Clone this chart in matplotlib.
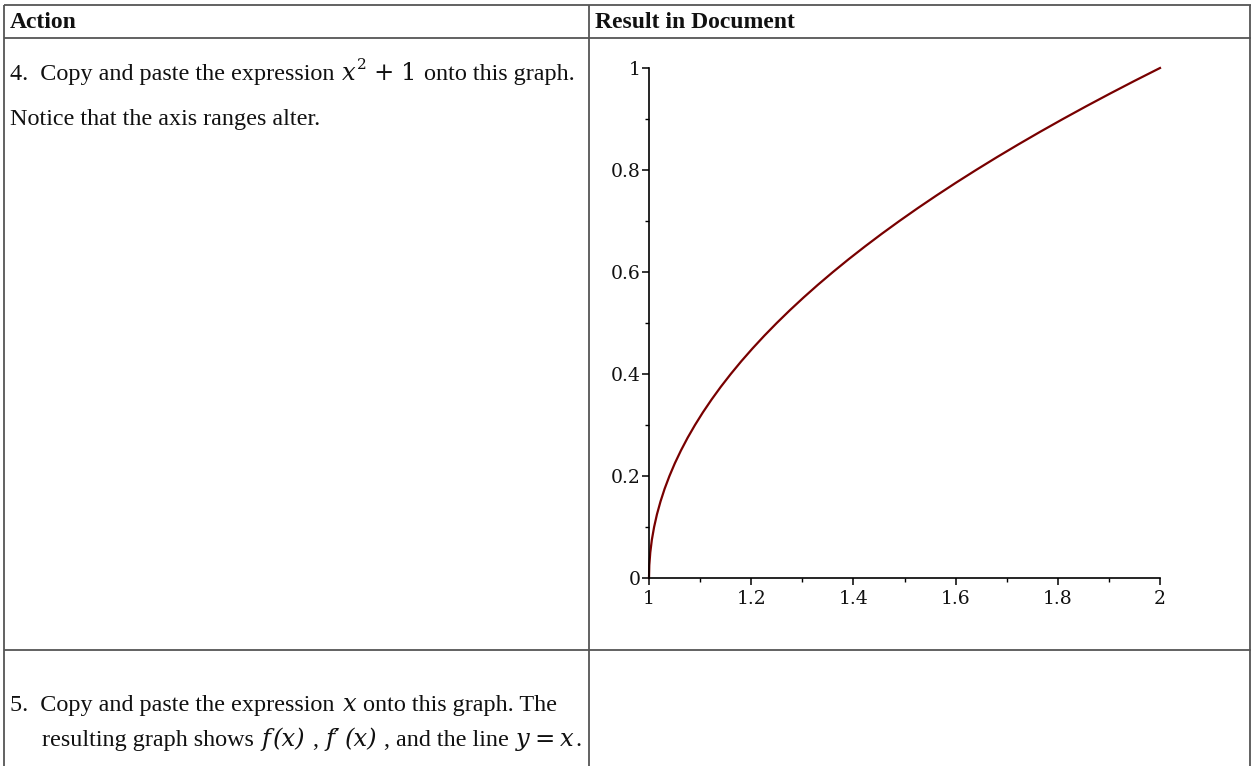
import matplotlib
matplotlib.use("Agg")
import matplotlib.pyplot as plt
from matplotlib.ticker import MultipleLocator

# ---- data ----
curve_x = [1.0, 1.0006, 1.0025, 1.0056, 1.01, 1.0156, 1.0225, 1.0306, 1.04, 1.0506,
           1.0625, 1.0756, 1.09, 1.1056, 1.1225, 1.1406, 1.16, 1.1806, 1.2025, 1.2256,
           1.25, 1.2756, 1.3025, 1.3306, 1.36, 1.3906, 1.4225, 1.4556, 1.49, 1.5256,
           1.5625, 1.6006, 1.64, 1.6806, 1.7225, 1.7656, 1.81, 1.8556, 1.9025, 1.9506, 2.0]
curve_y = [0.0, 0.025, 0.05, 0.075, 0.1, 0.125, 0.15, 0.175, 0.2, 0.225,
           0.25, 0.275, 0.3, 0.325, 0.35, 0.375, 0.4, 0.425, 0.45, 0.475,
           0.5, 0.525, 0.55, 0.575, 0.6, 0.625, 0.65, 0.675, 0.7, 0.725,
           0.75, 0.775, 0.8, 0.825, 0.85, 0.875, 0.9, 0.925, 0.95, 0.975, 1.0]
x_ticks = [1, 1.2, 1.4, 1.6, 1.8, 2]
x_tick_labels = ["1", "1.2", "1.4", "1.6", "1.8", "2"]
y_ticks = [0, 0.2, 0.4, 0.6, 0.8, 1]
y_tick_labels = ["0", "0.2", "0.4", "0.6", "0.8", "1"]

W, H = 1251, 766
fig = plt.figure(figsize=(W / 100, H / 100), dpi=100)
renderer = fig.canvas.get_renderer()

# background "document" axes in pixel coordinates
bg = fig.add_axes([0, 0, 1, 1])
bg.set_xlim(0, W)
bg.set_ylim(H, 0)
bg.axis("off")

lc = "#555555"
lw = 1.3
for (x0, y0, x1, y1) in [(4, 5, W, 5), (4, 38, W, 38), (4, 650, W, 650),
                         (4, 5, 4, H), (589, 5, 589, H), (1250, 5, 1250, H)]:
    bg.plot([x0, x1], [y0, y1], color=lc, lw=lw, solid_capstyle="butt")

serif = "Liberation Serif"
mathf = "DejaVu Serif"
fs = 17.4
mfs = 17.5
tc = "#111111"

TEXT = dict(fontfamily=serif, fontsize=fs)
MATH = dict(fontfamily=mathf, fontsize=mfs)
MATHI = dict(fontfamily=mathf, fontsize=mfs, fontstyle="italic")
SUP = dict(fontfamily=mathf, fontsize=11)


def run(x, y, pieces):
    """Place text pieces one after another on a baseline."""
    for s, style, gap, dy in pieces:
        x += gap
        t = bg.text(x, y + dy, s, va="baseline", ha="left", color=tc, **style)
        bb = t.get_window_extent(renderer=renderer)
        x = bb.x1
    return x


bg.text(10, 28, "Action", fontfamily=serif, fontweight="bold", fontsize=17, va="baseline", color=tc)
bg.text(595, 28, "Result in Document", fontfamily=serif, fontweight="bold", fontsize=17, va="baseline", color=tc)

# row 4
run(10, 80, [("4.  Copy and paste the expression", TEXT, 0, 0),
             ("x", MATHI, 7, 0),
             ("2", SUP, 2, -11),
             ("+", MATH, 7, 0),
             ("1", MATH, 7, 0),
             ("onto this graph.", TEXT, 7, 0)])
run(10, 125, [("Notice that the axis ranges alter.", TEXT, 0, 0)])

# row 5
run(10, 711, [("5.  Copy and paste the expression", TEXT, 0, 0),
              ("x", MATHI, 8, 0),
              ("onto this graph. The", TEXT, 7, 0)])
run(42, 746, [("resulting graph shows", TEXT, 0, 0),
              ("f", MATHI, 8, 0),
              ("(x)", MATHI, 2, 0),
              (",", TEXT, 7, 0),
              ("f\u2032", MATHI, 7, 0),
              ("(x)", MATHI, 5, 0),
              (", and the line", TEXT, 6, 0),
              ("y", MATHI, 7, 0),
              ("=", MATH, 5, 0),
              ("x", MATHI, 5, 0),
              (".", TEXT, 2, 0)])

# plot axes
left, right, top, bottom = 649, 1160, 68, 578
ax = fig.add_axes([left / W, (H - bottom) / H, (right - left) / W, (bottom - top) / H])
ax.patch.set_alpha(0)
ax.plot(curve_x, curve_y, color="#780000", lw=1.6, clip_on=False)
ax.set_xlim(1, 2)
ax.set_ylim(0, 1)
for s in ["top", "right"]:
    ax.spines[s].set_visible(False)
for s in ["left", "bottom"]:
    ax.spines[s].set_linewidth(1.2)
    ax.spines[s].set_color("black")
ax.set_xticks(x_ticks)
ax.set_xticklabels(x_tick_labels)
ax.set_yticks(y_ticks)
ax.set_yticklabels(y_tick_labels)
ax.xaxis.set_minor_locator(MultipleLocator(0.1))
ax.yaxis.set_minor_locator(MultipleLocator(0.1))
ax.tick_params(which="major", length=5, width=1.1, direction="out", labelsize=13.5, pad=4)
ax.tick_params(which="minor", length=3, width=1.0, direction="out")
ax.tick_params(axis="y", pad=1)
for lab in ax.get_xticklabels() + ax.get_yticklabels():
    lab.set_fontfamily("DejaVu Serif")
    lab.set_color("#111111")

fig.savefig("out.png", dpi=100)
